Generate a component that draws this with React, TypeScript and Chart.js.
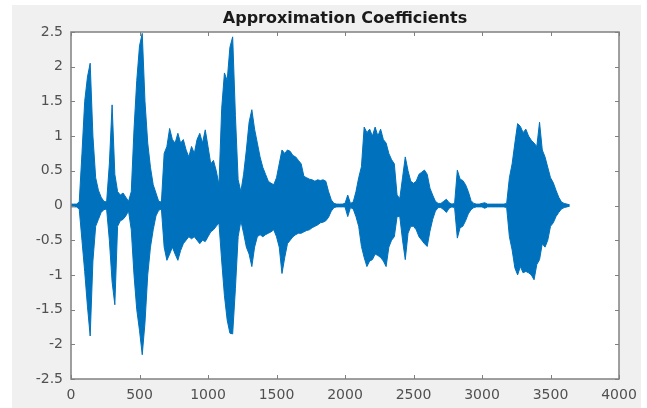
import { useEffect, useRef } from 'react';
import { Chart, registerables } from 'chart.js';

Chart.register(...registerables);

const chartTitle = 'Approximation Coefficients';
const SAMPLE_STEP = 20;

// Upper (positive) envelope of the coefficients, one value every 20 samples (0..3640)
const upperEnvelope = [
  0.02, 0.02, 0.02, 0.05, 0.75, 1.5, 1.85, 2.05, 1.0, 0.4,
  0.22, 0.12, 0.06, 0.05, 0.6, 1.45, 0.45, 0.2, 0.15, 0.18,
  0.12, 0.06, 0.2, 1.1, 1.8, 2.3, 2.48, 1.5, 0.9, 0.55,
  0.3, 0.18, 0.06, 0.05, 0.75, 0.85, 1.11, 0.95, 0.9, 1.04,
  0.9, 0.95, 0.8, 0.7, 0.85, 0.75, 0.95, 1.04, 0.9, 1.09,
  0.85, 0.6, 0.65, 0.5, 0.3, 1.4, 1.91, 1.8, 2.28, 2.43,
  1.3, 0.37, 0.2, 0.45, 0.8, 1.2, 1.38, 1.1, 0.9, 0.7,
  0.55, 0.45, 0.35, 0.32, 0.3, 0.4, 0.6, 0.8, 0.75, 0.8,
  0.78, 0.72, 0.7, 0.65, 0.6, 0.42, 0.4, 0.38, 0.37, 0.35,
  0.37, 0.36, 0.37, 0.35, 0.2, 0.08, 0.03, 0.02, 0.02, 0.02,
  0.03, 0.15, 0.03, 0.05, 0.2, 0.4, 0.56, 1.13, 1.05, 1.1,
  1.0, 1.13, 1.0, 1.1, 0.95, 0.9, 0.75, 0.66, 0.6, 0.15,
  0.1, 0.4, 0.7, 0.5, 0.35, 0.32, 0.35, 0.45, 0.48, 0.51,
  0.45, 0.25, 0.15, 0.06, 0.03, 0.03, 0.06, 0.09, 0.04, 0.02,
  0.03, 0.51, 0.38, 0.36, 0.3, 0.2, 0.07, 0.03, 0.02, 0.02,
  0.03, 0.04, 0.02, 0.02, 0.02, 0.02, 0.02, 0.02, 0.02, 0.03,
  0.4, 0.6, 0.9, 1.18, 1.14, 1.05, 1.1, 1.0, 0.94, 0.9,
  0.85, 1.2, 0.8, 0.7, 0.55, 0.4, 0.33, 0.22, 0.12, 0.05,
  0.03, 0.02, 0.01,
];

// Lower (negative) envelope, same sampling
const lowerEnvelope = [
  -0.02, -0.02, -0.02, -0.05, -0.5, -0.95, -1.45, -1.88, -0.8, -0.3,
  -0.2, -0.1, -0.06, -0.05, -0.5, -1.1, -1.43, -0.3, -0.22, -0.2,
  -0.15, -0.08, -0.35, -1.0, -1.5, -1.8, -2.15, -1.69, -1.0, -0.6,
  -0.35, -0.15, -0.07, -0.05, -0.6, -0.79, -0.7, -0.6, -0.7, -0.79,
  -0.65, -0.55, -0.5, -0.45, -0.48, -0.45, -0.5, -0.55, -0.5, -0.52,
  -0.45, -0.38, -0.35, -0.3, -0.25, -0.8, -1.3, -1.65, -1.84, -1.85,
  -1.2, -0.45, -0.22, -0.4, -0.6, -0.7, -0.88, -0.6, -0.45, -0.42,
  -0.45, -0.42, -0.4, -0.38, -0.35, -0.45, -0.6, -0.98, -0.75, -0.55,
  -0.5, -0.45, -0.42, -0.4, -0.4, -0.38, -0.36, -0.35, -0.32, -0.3,
  -0.28, -0.25, -0.24, -0.22, -0.17, -0.08, -0.03, -0.02, -0.02, -0.02,
  -0.02, -0.16, -0.03, -0.05, -0.16, -0.3, -0.59, -0.75, -0.88, -0.8,
  -0.78, -0.7, -0.72, -0.75, -0.8, -0.88, -0.6, -0.5, -0.45, -0.16,
  -0.16, -0.5, -0.78, -0.4, -0.3, -0.3, -0.35, -0.45, -0.5, -0.55,
  -0.59, -0.37, -0.2, -0.08, -0.03, -0.03, -0.06, -0.1, -0.04, -0.02,
  -0.03, -0.47, -0.32, -0.3, -0.22, -0.12, -0.06, -0.03, -0.02, -0.02,
  -0.02, -0.04, -0.02, -0.02, -0.02, -0.02, -0.02, -0.02, -0.02, -0.03,
  -0.45, -0.64, -0.9, -1.0, -0.88, -0.97, -0.95, -0.97, -1.0, -1.07,
  -0.85, -0.78, -0.55, -0.6, -0.5, -0.3, -0.25, -0.16, -0.1, -0.05,
  -0.03, -0.02, -0.01,
];

const xTickValues = [0, 500, 1000, 1500, 2000, 2500, 3000, 3500, 4000];
const yTickValues = [-2.5, -2, -1.5, -1, -0.5, 0, 0.5, 1, 1.5, 2, 2.5];

const LINE_COLOR = '#0072BD';
const AXIS_COLOR = '#808080';
const TICK_TEXT = '#505050';
const FIG_BG = '#f0f0f0';

const toPoints = (arr: number[]) => arr.map((y, i) => ({ x: i * SAMPLE_STEP, y }));

const backgroundPlugin = {
  id: 'figBackground',
  beforeDraw(chart: any) {
    const { ctx, chartArea: a } = chart;
    ctx.save();
    ctx.fillStyle = '#ffffff';
    ctx.fillRect(0, 0, chart.width, chart.height);
    ctx.fillStyle = FIG_BG;
    ctx.fillRect(12, 5, 629, chart.height - 5);
    ctx.fillStyle = '#ffffff';
    ctx.fillRect(a.left, a.top, a.right - a.left, a.bottom - a.top);
    ctx.restore();
  },
};

const boxPlugin = {
  id: 'axesBox',
  afterDatasetsDraw(chart: any) {
    const { ctx, chartArea: a, scales } = chart;
    const xs = scales.x;
    const ys = scales.y;
    const len = 4;
    ctx.save();
    ctx.strokeStyle = AXIS_COLOR;
    ctx.lineWidth = 1;
    ctx.beginPath();
    for (const v of xTickValues) {
      const px = Math.round(xs.getPixelForValue(v)) + 0.5;
      ctx.moveTo(px, a.bottom);
      ctx.lineTo(px, a.bottom - len);
      ctx.moveTo(px, a.top);
      ctx.lineTo(px, a.top + len);
    }
    for (const v of yTickValues) {
      const py = Math.round(ys.getPixelForValue(v)) + 0.5;
      ctx.moveTo(a.left, py);
      ctx.lineTo(a.left + len, py);
      ctx.moveTo(a.right, py);
      ctx.lineTo(a.right - len, py);
    }
    ctx.stroke();
    ctx.lineWidth = 1.5;
    ctx.strokeRect(a.left, a.top, a.right - a.left, a.bottom - a.top);
    ctx.restore();
  },
};

export default function App() {
  const canvasRef = useRef<HTMLCanvasElement | null>(null);

  useEffect(() => {
    const canvas = canvasRef.current;
    if (!canvas) return;
    const chart = new Chart(canvas, {
      type: 'line',
      data: {
        datasets: [
          {
            data: toPoints(upperEnvelope),
            borderColor: LINE_COLOR,
            borderWidth: 1,
            pointRadius: 0,
            tension: 0,
            fill: false,
          },
          {
            data: toPoints(lowerEnvelope),
            borderColor: LINE_COLOR,
            backgroundColor: LINE_COLOR,
            borderWidth: 1,
            pointRadius: 0,
            tension: 0,
            fill: '-1',
          },
        ],
      },
      options: {
        animation: false,
        responsive: false,
        maintainAspectRatio: false,
        devicePixelRatio: 1,
        layout: { padding: { left: 0, right: 28, top: 0, bottom: 0 } },
        plugins: {
          legend: { display: false },
          tooltip: { enabled: false },
          filler: { propagate: false },
          title: {
            display: true,
            text: chartTitle,
            fullSize: false,
            color: '#1a1a1a',
            font: { family: 'DejaVu Sans', size: 16, weight: 'bold' },
            padding: { top: 9, bottom: 3.8 },
          },
        },
        scales: {
          x: {
            type: 'linear',
            min: 0,
            max: 4000,
            afterBuildTicks: (scale: any) => {
              scale.ticks = xTickValues.map((v) => ({ value: v }));
            },
            afterFit: (scale: any) => {
              scale.height = 29;
            },
            grid: { display: false, drawTicks: false },
            border: { display: false },
            ticks: {
              color: TICK_TEXT,
              font: { family: 'DejaVu Sans', size: 14 },
              padding: 8,
              maxRotation: 0,
              autoSkip: false,
              callback: (v: any) => String(v),
            },
          },
          y: {
            type: 'linear',
            min: -2.5,
            max: 2.5,
            afterBuildTicks: (scale: any) => {
              scale.ticks = yTickValues.map((v) => ({ value: v }));
            },
            afterFit: (scale: any) => {
              scale.width = 71;
            },
            grid: { display: false, drawTicks: false },
            border: { display: false },
            ticks: {
              color: TICK_TEXT,
              font: { family: 'DejaVu Sans', size: 14 },
              padding: 8,
              autoSkip: false,
              callback: (v: any) => String(v),
            },
          },
        },
      },
      plugins: [backgroundPlugin, boxPlugin],
    } as any);
    return () => chart.destroy();
  }, []);

  return (
    <div style={{ position: 'absolute', left: 0, top: 0, width: 647, height: 408 }}>
      <canvas ref={canvasRef} width={647} height={408} style={{ display: 'block' }} />
    </div>
  );
}
